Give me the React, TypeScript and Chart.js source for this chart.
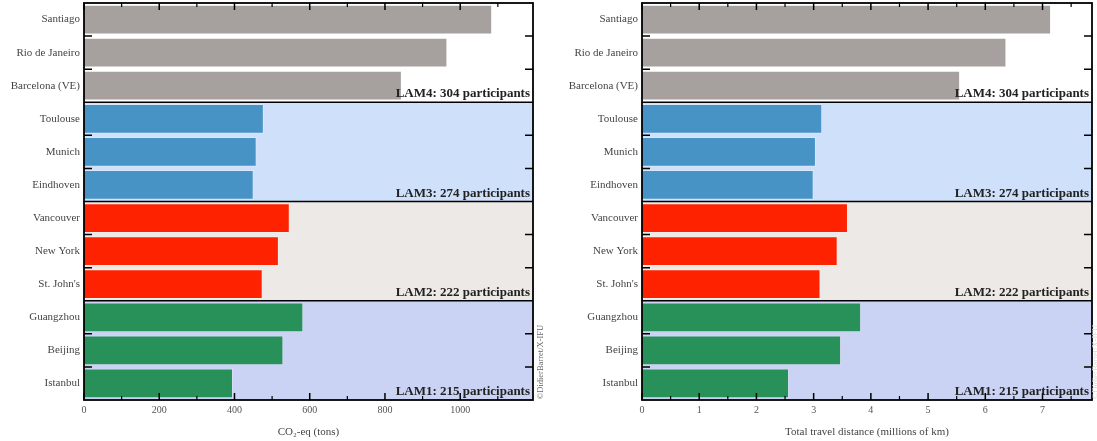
import React, { useEffect, useRef } from "react";
import { Chart, registerables } from "chart.js";

Chart.register(...registerables);

const cities = [
  "Santiago",
  "Rio de Janeiro",
  "Barcelona (VE)",
  "Toulouse",
  "Munich",
  "Eindhoven",
  "Vancouver",
  "New York",
  "St. John's",
  "Guangzhou",
  "Beijing",
  "Istanbul",
];
const co2Tons = [1085, 966, 845, 478, 459, 451, 547, 518, 475, 583, 530, 396];
const distanceMkm = [7.15, 6.37, 5.56, 3.15, 3.04, 3.0, 3.6, 3.42, 3.12, 3.83, 3.48, 2.57];
const groupNames = ["LAM4", "LAM3", "LAM2", "LAM1"];
const groupParticipants = [304, 274, 222, 215];
const groupSizes = [3, 3, 3, 3];
const groupBarColors = ["#a6a19e", "#4893c5", "#ff2200", "#28915a"];
const groupBgColors = ["#ffffff", "#cfe0fa", "#ede9e6", "#cad3f3"];
const co2TickValues = [0, 200, 400, 600, 800, 1000];
const distTickValues = [0, 1, 2, 3, 4, 5, 6, 7];
const co2Minor = 100;
const distMinor = 0.5;

const FONT = "'Liberation Serif', 'DejaVu Serif', serif";

function barColors() {
  const out: string[] = [];
  groupSizes.forEach((n, g) => {
    for (let i = 0; i < n; i++) out.push(groupBarColors[g]);
  });
  return out;
}

function makeDecor(majors: number[], minor: number, wm: { x: number; color: string }) {
  return {
    id: "decor",
    beforeDatasetsDraw(chart: any) {
      const { ctx, chartArea: a, scales } = chart;
      const y = scales.y;
      const rowH = y.getPixelForValue(1) - y.getPixelForValue(0);
      let start = 0;
      ctx.save();
      groupSizes.forEach((n, g) => {
        const top = y.getPixelForValue(start) - rowH / 2;
        const bot = y.getPixelForValue(start + n - 1) + rowH / 2;
        ctx.fillStyle = groupBgColors[g];
        ctx.fillRect(a.left, top, a.right - a.left, bot - top);
        start += n;
      });
      ctx.restore();
    },
    afterDatasetsDraw(chart: any) {
      const { ctx, chartArea: a, scales } = chart;
      const y = scales.y;
      const x = scales.x;
      const rowH = y.getPixelForValue(1) - y.getPixelForValue(0);
      ctx.save();
      ctx.strokeStyle = "#000";
      ctx.lineWidth = 1.5;
      let start = 0;
      groupSizes.forEach((n, g) => {
        for (let i = 0; i < n - 1; i++) {
          const py = y.getPixelForValue(start + i) + rowH / 2;
          ctx.beginPath();
          ctx.moveTo(a.left, py);
          ctx.lineTo(a.left + 8, py);
          ctx.moveTo(a.right, py);
          ctx.lineTo(a.right - 8, py);
          ctx.stroke();
        }
        start += n;
        if (g < groupSizes.length - 1) {
          const py = y.getPixelForValue(start - 1) + rowH / 2;
          ctx.beginPath();
          ctx.moveTo(a.left, py);
          ctx.lineTo(a.right, py);
          ctx.stroke();
        }
      });
      const maxV = x.max;
      const step = majors[1] - majors[0];
      for (let k = 0; k * minor <= maxV + 1e-9; k++) {
        const v = k * minor;
        const isMajor = Math.abs(v / step - Math.round(v / step)) < 1e-6;
        const len = isMajor ? 7 : 4;
        const px = x.getPixelForValue(v);
        ctx.lineWidth = isMajor ? 1.5 : 1.2;
        ctx.beginPath();
        ctx.moveTo(px, a.bottom);
        ctx.lineTo(px, a.bottom - len);
        ctx.moveTo(px, a.top);
        ctx.lineTo(px, a.top + len);
        ctx.stroke();
      }
      ctx.lineWidth = 1.8;
      ctx.strokeRect(a.left, a.top, a.right - a.left, a.bottom - a.top);
      ctx.fillStyle = "#222";
      ctx.font = `bold 13px ${FONT}`;
      ctx.textAlign = "right";
      ctx.textBaseline = "alphabetic";
      start = 0;
      groupSizes.forEach((n, g) => {
        const bot = y.getPixelForValue(start + n - 1) + rowH / 2;
        ctx.fillText(`${groupNames[g]}: ${groupParticipants[g]} participants`, a.right - 3, bot - 5);
        start += n;
      });
      ctx.translate(wm.x, a.bottom - 38);
      ctx.rotate(-Math.PI / 2);
      ctx.font = `8.5px ${FONT}`;
      ctx.fillStyle = wm.color;
      ctx.textAlign = "center";
      ctx.textBaseline = "middle";
      ctx.fillText("©DidierBarret/X-IFU", 0, 0);
      ctx.restore();
    },
  };
}

function Panel(props: {
  values: number[];
  max: number;
  majors: number[];
  minor: number;
  title: string;
  width: number;
  left: number;
  yWidth: number;
  padRight: number;
  wm: { x: number; color: string };
}) {
  const ref = useRef<HTMLCanvasElement | null>(null);
  useEffect(() => {
    if (!ref.current) return;
    const chart = new Chart(ref.current, {
      type: "bar",
      data: {
        labels: cities,
        datasets: [
          {
            data: props.values,
            backgroundColor: barColors(),
            borderColor: "rgba(255,255,255,0.25)",
            borderWidth: 1,
            barPercentage: 0.9,
            categoryPercentage: 1,
          },
        ],
      },
      options: {
        indexAxis: "y",
        responsive: false,
        animation: false,
        devicePixelRatio: 1,
        layout: { padding: { left: 0, top: 3, right: props.padRight, bottom: 0 } },
        plugins: { legend: { display: false }, tooltip: { enabled: false } },
        scales: {
          y: {
            type: "category",
            offset: true,
            grid: { display: false, drawTicks: false },
            border: { display: false },
            ticks: {
              padding: 4,
              color: "#444",
              font: { family: FONT, size: 11 },
            },
            afterFit: (s: any) => {
              s.width = props.yWidth;
              s.paddingTop = 0;
              s.paddingBottom = 0;
            },
          },
          x: {
            type: "linear",
            min: 0,
            max: props.max,
            grid: { display: false, drawTicks: false },
            border: { display: false },
            afterBuildTicks: (s: any) => {
              s.ticks = props.majors.map((v) => ({ value: v }));
            },
            ticks: {
              padding: 4,
              color: "#555",
              font: { family: FONT, size: 10 },
              maxRotation: 0,
              autoSkip: false,
              callback: (v: any) => String(v),
            },
            title: {
              display: true,
              text: props.title,
              color: "#444",
              font: { family: FONT, size: 11 },
              padding: { top: 0, bottom: 2 },
            },
            afterFit: (s: any) => {
              s.height = 41;
              s.paddingLeft = 0;
              s.paddingRight = 0;
            },
          },
        },
      },
      plugins: [makeDecor(props.majors, props.minor, props.wm)],
    } as any);
    return () => chart.destroy();
  }, []);
  return (
    <div style={{ position: "absolute", left: props.left, top: 0, width: props.width, height: 441 }}>
      <canvas ref={ref} width={props.width} height={441} style={{ display: "block" }} />
    </div>
  );
}

export default function App() {
  return (
    <div style={{ position: "fixed", left: 0, top: 0, width: 1097, height: 441, background: "#fff", overflow: "hidden" }}>
      <Panel
        values={co2Tons}
        max={1085 * 1.1}
        majors={co2TickValues}
        minor={co2Minor}
        title="CO₂-eq (tons)"
        width={556}
        left={0}
        yWidth={84}
        padRight={23}
        wm={{ x: 541, color: "#666" }}
      />
      <Panel
        values={distanceMkm}
        max={7.15 * 1.1}
        majors={distTickValues}
        minor={distMinor}
        title="Total travel distance (millions of km)"
        width={541}
        left={556}
        yWidth={86}
        padRight={5}
        wm={{ x: 540, color: "#d8d8d8" }}
      />
    </div>
  );
}
